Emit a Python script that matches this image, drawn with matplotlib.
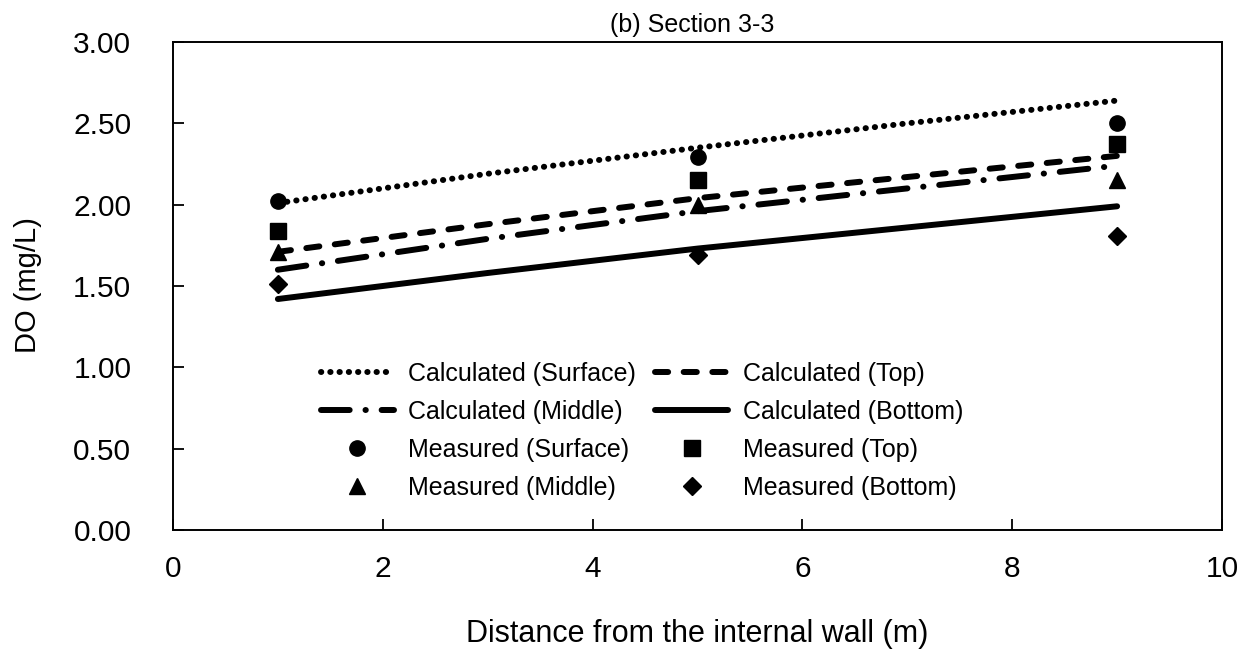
import matplotlib
matplotlib.use("Agg")
import matplotlib.pyplot as plt

plt.rcParams['font.family'] = ['Liberation Sans', 'DejaVu Sans']

# distance from the internal wall (m)
x_calc = [1, 3, 5, 7, 9]
x_meas = [1, 5, 9]

# calculated DO (mg/L)
calc_surface = [2.01, 2.19, 2.35, 2.50, 2.64]
calc_top = [1.71, 1.88, 2.04, 2.17, 2.30]
calc_middle = [1.60, 1.79, 1.96, 2.10, 2.24]
calc_bottom = [1.42, 1.58, 1.73, 1.86, 1.99]

# measured DO (mg/L)
meas_surface = [2.02, 2.29, 2.50]
meas_top = [1.84, 2.15, 2.37]
meas_middle = [1.71, 2.00, 2.15]
meas_bottom = [1.51, 1.69, 1.81]

W, H = 1242, 657
fig = plt.figure(figsize=(W / 100, H / 100), dpi=100)
# axes box in pixels: left 173, right 1222, top 42, bottom 530
ax = fig.add_axes([173 / W, 1 - 530 / H, (1222 - 173) / W, (530 - 42) / H])

lw = 4.3
h1, = ax.plot(x_calc, calc_surface, color='black', lw=lw, linestyle=(0, (0.05, 1.5)),
              dash_capstyle='round', label='Calculated (Surface)')
h2, = ax.plot(x_calc, calc_top, color='black', lw=lw, linestyle=(0, (2.2, 2.6)),
              dash_capstyle='round', label='Calculated (Top)')
h3, = ax.plot(x_calc, calc_middle, color='black', lw=lw, linestyle=(0, (4.8, 2.65, 0.05, 2.65)),
              dash_capstyle='round', label='Calculated (Middle)')
h4, = ax.plot(x_calc, calc_bottom, color='black', lw=lw, linestyle='-',
              solid_capstyle='round', label='Calculated (Bottom)')

h5, = ax.plot(x_meas, meas_surface, 'o', color='black', ms=11, label='Measured (Surface)')
h6, = ax.plot(x_meas, meas_top, 's', color='black', ms=12, label='Measured (Top)')
h7, = ax.plot(x_meas, meas_middle, '^', color='black', ms=12, label='Measured (Middle)')
h8, = ax.plot(x_meas, meas_bottom, 'D', color='black', ms=9.5, label='Measured (Bottom)')

ax.set_xlim(0, 10)
ax.set_ylim(0, 3)
ax.set_xticks([0, 2, 4, 6, 8, 10])
ax.set_yticks([0, 0.5, 1.0, 1.5, 2.0, 2.5, 3.0])
ax.set_yticklabels(['%.2f' % v for v in ax.get_yticks()])
ax.tick_params(direction='in', length=8, width=1.3, labelsize=21.5, pad=18)
ax.tick_params(axis='y', pad=30)
for s in ax.spines.values():
    s.set_linewidth(1.4)

ax.set_xlabel('Distance from the internal wall (m)', fontsize=22)
ax.xaxis.set_label_coords(0.5, -0.182)
fig.text(28 / W, 1 - 285 / H, 'DO (mg/L)', fontsize=21, rotation=90,
         ha='center', va='center')
fig.text(692 / W, 1 - 32 / H, '(b) Section 3-3', fontsize=18, ha='center', va='baseline')

ax.legend(handles=[h1, h3, h5, h7, h2, h4, h6, h8], ncol=2, frameon=False,
          fontsize=18, loc='lower left', bbox_to_anchor=((311 - 173) / 1049, 0.042),
          handlelength=2.9, handletextpad=0.6, columnspacing=0.76, labelspacing=0.56,
          borderaxespad=0)

fig.savefig('out.png', dpi=100)
